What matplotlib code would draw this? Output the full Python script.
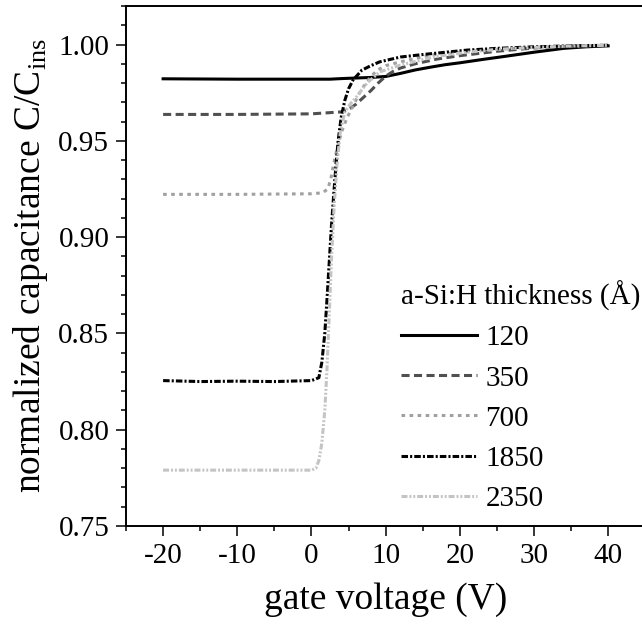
import matplotlib
matplotlib.use("Agg")
import matplotlib.pyplot as plt
from matplotlib.ticker import MultipleLocator, FormatStrFormatter

plt.rcParams['font.family'] = ['Liberation Serif', 'DejaVu Serif']
plt.rcParams['mathtext.fontset'] = 'custom'
plt.rcParams['mathtext.rm'] = 'Liberation Serif'
plt.rcParams['lines.scale_dashes'] = False
plt.rcParams['axes.unicode_minus'] = False

# gate voltage (V) / normalized capacitance for each a-Si:H thickness
v_120 = [-20, -10, 0, 2.5, 4, 6, 8, 10, 12, 14, 16, 18, 20, 23, 26, 30, 34, 37, 40]
c_120 = [0.9822, 0.982, 0.982, 0.982, 0.9823, 0.9826, 0.9829, 0.9834, 0.9850, 0.9868,
         0.9882, 0.9895, 0.9905, 0.9922, 0.9938, 0.9960, 0.9980, 0.9988, 0.9993]

v_350 = [-20, -10, 0, 2, 4, 5, 6, 7, 8, 9, 10, 11, 12, 14, 17, 20, 25, 30, 35, 40]
c_350 = [0.9637, 0.9637, 0.964, 0.9645, 0.965, 0.9662, 0.9690, 0.9725, 0.9760, 0.9800,
         0.9835, 0.9860, 0.9878, 0.9900, 0.9925, 0.9942, 0.9965, 0.9982, 0.9992, 0.9996]

v_700 = [-20, -10, 0, 1.5, 2.2, 2.6, 3.0, 3.4, 3.8, 4.2, 4.8, 5.6, 6.5, 7.5, 8.8, 10,
         12, 16, 20, 25, 30, 35, 40]
c_700 = [0.9222, 0.9222, 0.9225, 0.923, 0.925, 0.930, 0.938, 0.945, 0.951, 0.956, 0.962,
         0.968, 0.975, 0.981, 0.9865, 0.989, 0.991, 0.9945, 0.996, 0.9975, 0.9985, 0.9992, 0.9996]

v_1850 = [-20, -15, -10, -5, 0, 1.0, 1.4, 1.8, 2.1, 2.4, 2.7, 3.0, 3.3, 3.6, 4.0, 4.5,
          5.0, 5.6, 6.8, 8, 9.2, 12, 15.5, 21, 25, 30, 35, 40]
c_1850 = [0.8255, 0.825, 0.8252, 0.825, 0.8255, 0.827, 0.835, 0.850, 0.868, 0.887, 0.906,
          0.922, 0.937, 0.950, 0.962, 0.971, 0.977, 0.9815, 0.9867, 0.989, 0.991, 0.9935,
          0.995, 0.9971, 0.9980, 0.9988, 0.9993, 0.9996]

v_2350 = [-20, -10, 0, 0.6, 1.0, 1.4, 1.8, 2.1, 2.4, 2.7, 3.0, 3.4, 3.9, 4.5, 5.2, 6.1,
          7.5, 9.2, 12, 16.4, 21, 25, 30, 35, 40]
c_2350 = [0.779, 0.779, 0.779, 0.780, 0.784, 0.793, 0.810, 0.832, 0.860, 0.888, 0.912,
          0.936, 0.955, 0.965, 0.969, 0.973, 0.980, 0.9858, 0.9893, 0.9935, 0.996, 0.9975,
          0.9985, 0.9992, 0.9996]

fig = plt.figure(figsize=(6.42, 6.31), dpi=100)
ax = fig.add_axes([0.1963, 0.1664, 0.8087, 0.8241])

ax.plot(v_120, c_120, color='black', lw=2.2, ls='-', label='120')
ax.plot(v_350, c_350, color='#505050', lw=2.2, ls=(0, (5.8, 3.2)), label='350')
ax.plot(v_700, c_700, color='#a0a0a0', lw=2.2, ls=(0, (2.6, 3.2)), label='700')
ax.plot(v_1850, c_1850, color='black', lw=2.2, ls=(0, (4.7, 1.5, 1.5, 1.5)), label='1850')
ax.plot(v_2350, c_2350, color='#c4c4c4', lw=2.2,
        ls=(0, (4.3, 1.4, 1.4, 1.4, 1.4, 1.4)), label='2350')

ax.set_xlim(-25, 45)
ax.set_ylim(0.75, 1.02)
ax.xaxis.set_major_locator(MultipleLocator(10))
ax.xaxis.set_minor_locator(MultipleLocator(5))
ax.yaxis.set_major_locator(MultipleLocator(0.05))
ax.yaxis.set_minor_locator(MultipleLocator(0.01))
ax.yaxis.set_major_formatter(FormatStrFormatter('%.2f'))
ax.spines['right'].set_visible(False)
for s in ['left', 'bottom', 'top']:
    ax.spines[s].set_linewidth(1.4)
ax.tick_params(which='major', direction='out', length=7, width=1.1, labelsize=21, pad=5)
ax.tick_params(which='minor', direction='out', length=3.8, width=1.1)

ax.set_xlabel('gate voltage (V)', fontsize=27, labelpad=10)
ax.set_ylabel('normalized capacitance C/C$_{\\mathrm{ins}}$', fontsize=27, labelpad=6)

leg = ax.legend(title='a-Si:H thickness (Å)', fontsize=21, title_fontsize=21,
                frameon=False, loc='upper left', bbox_to_anchor=(401 / 642, 1 - 281 / 631),
                bbox_transform=fig.transFigure, borderpad=0, borderaxespad=0,
                handlelength=2.6, handletextpad=0.3, labelspacing=0.47, alignment='left')

fig.savefig('out.png', dpi=100)
